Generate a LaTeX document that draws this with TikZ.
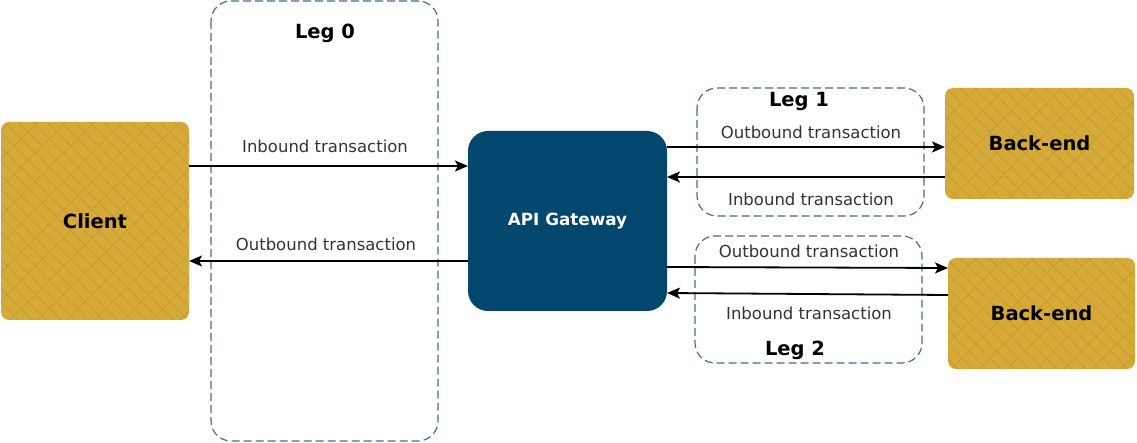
\documentclass[tikz,border=0pt]{standalone}
\usepackage{fontspec}
\setmainfont{DejaVu Sans}
\usetikzlibrary{arrows.meta,patterns.meta}
\definecolor{gold}{HTML}{D6AA38}
\definecolor{golddark}{HTML}{C69C30}
\definecolor{gwblue}{HTML}{02476E}
\definecolor{dashblue}{HTML}{3F6F8F}
\definecolor{txt}{HTML}{333333}
\tikzset{
  goldbox/.style={draw=none, fill=gold, rounded corners=8pt,
    postaction={pattern={Lines[angle=-45,distance=10pt,line width=0.7pt]}, pattern color=golddark},
    postaction={pattern={Lines[angle=45,distance=20pt,line width=0.7pt]}, pattern color=golddark}},
  legbox/.style={draw=dashblue, line width=1.2pt, dash pattern=on 8pt off 4pt, rounded corners=20pt},
  gwbox/.style={fill=gwblue, rounded corners=20pt},
  bigbold/.style={font=\fontsize{19.5}{22}\selectfont\bfseries, text=black},
  legtitle/.style={font=\fontsize{19.5}{22}\selectfont\bfseries, text=black, inner sep=0pt},
  lbl/.style={font=\fontsize{16.5}{20}\selectfont, text=txt, inner sep=0pt},
  arr/.style={line width=1.8pt, -{Stealth[length=13pt,width=11pt,inset=3pt]}},
}
\begin{document}
\begin{tikzpicture}[x=1pt,y=-1pt]
\useasboundingbox (0,0) rectangle (1137,443);
% leg boxes
\draw[legbox] (211,1) rectangle (438,441);
\draw[legbox] (697,88) rectangle (924,216);
\draw[legbox] (695,236) rectangle (922,363);
% main boxes
\path[goldbox] (1,122) rectangle (189,320);
\node[bigbold] (client) at (95,221) {Client};
\coordinate (clientE) at (189,221);
\path[gwbox] (468,131) rectangle (667,311);
\node[text=white, font=\fontsize{16.8}{20}\selectfont\bfseries] (gw) at (567.5,221) {API Gateway};
\coordinate (gwW) at (468,221);
\coordinate (gwE) at (667,221);
\path[goldbox] (945,88) rectangle (1134,199);
\node[bigbold] (be1) at (1039.5,143) {Back-end};
\coordinate (be1W) at (945,143);
\path[goldbox] (948,258) rectangle (1135,369);
\node[bigbold] (be2) at (1041.5,313) {Back-end};
\coordinate (be2W) at (948,313);
% titles
\node[legtitle] (l0) at (325,33) {Leg 0};
\node[legtitle] (l1) at (799,101) {Leg 1};
\node[legtitle] (l2) at (795,350) {Leg 2};
% connectors
\draw[arr] (clientE |- 0,166) -- (gwW |- 0,166);
\draw[arr] (gwW |- 0,261) -- (clientE |- 0,261);
\draw[arr] (gwE |- 0,147) -- (be1W |- 0,147);
\draw[arr] (be1W |- 0,177) -- (gwE |- 0,177);
\draw[arr] (gwE |- 0,267) -- (be2W |- 0,268);
\draw[arr] (be2W |- 0,295) -- (gwE |- 0,293);
% labels
\node[lbl] (t1) at (325,146) {Inbound transaction};
\node[lbl] (t2) at (326,244) {Outbound transaction};
\node[lbl] (t3) at (811,132) {Outbound transaction};
\node[lbl] (t4) at (811,199) {Inbound transaction};
\node[lbl] (t5) at (809,251) {Outbound transaction};
\node[lbl] (t6) at (809,313) {Inbound transaction};
\end{tikzpicture}
\end{document}
